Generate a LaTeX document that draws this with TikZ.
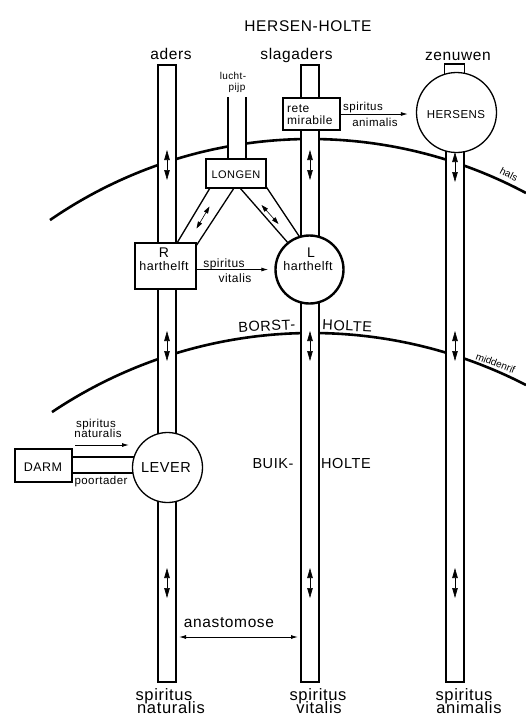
\documentclass[tikz,border=0pt]{standalone}
\usepackage{fontspec}
\setmainfont{Liberation Sans}[LetterSpace=4]
\usetikzlibrary{arrows.meta}
\tikzset{
  tube/.style={draw, line width=1.3pt, fill=white},
  box/.style={draw, line width=1.6pt, fill=white, inner sep=0pt},
  organ/.style={draw, circle, line width=1.3pt, fill=white, inner sep=0pt},
  cavity/.style={line width=2.6pt},
  flow/.style={-{Latex[length=7pt,width=4pt]}, line width=0.9pt},
  bidir/.style={{Triangle[length=10pt,width=5.5pt]}-{Triangle[length=10pt,width=5.5pt]}, line width=0.6pt},
  smallbidir/.style={{Triangle[length=7pt,width=4.5pt]}-{Triangle[length=7pt,width=4.5pt]}, line width=0.6pt},
  lbl/.style={font=\fontsize{#1}{#1}\selectfont, inner sep=0pt, anchor=base},
}
\newcommand\tubearrow[2]{\draw[bidir] (#1,#2-15) -- (#1,#2+15);}
\begin{document}
\begin{tikzpicture}[x=1pt,y=-1pt]
\useasboundingbox (0,0) rectangle (526,716);
\fill[white] (0,0) rectangle (526,716);

% body cavity boundaries
\draw[cavity, domain=50:526, samples=90, smooth, variable=\x]
  plot (\x, {597.2 - 458.2*sqrt(1-((\x-310.2)/458.2)^2)});
\draw[cavity, domain=52:526, samples=90, smooth, variable=\x]
  plot (\x, {799.7 - 466.7*sqrt(1-((\x-311.9)/466.7)^2)});

% vessels
\draw[tube] (158,65) rectangle (176,682);
\draw[tube] (301,65) rectangle (319,682);
\draw[tube] (446,110) rectangle (464,682);
\draw[line width=1.3pt, fill=white] (444.5,64) rectangle (464.5,80);

% trachea
\fill[white] (228,97) rectangle (246,170);
\draw[line width=1.3pt] (228,97) -- (228,170) (246,97) -- (246,170);

% bronchi
\fill[white] (211.8,185) -- (236,185) -- (193.4,250) -- (172.8,250) -- cycle;
\draw[line width=1.3pt] (211.8,185) -- (172.8,250) (236,185) -- (193.4,250);
\fill[white] (237.4,185) -- (265,185) -- (306,246.5) -- (296,252) -- cycle;
\draw[line width=1.3pt] (237.4,185) -- (296,252) (265,185) -- (306,246.5);

% portal vein
\fill[white] (72,457) rectangle (142,473);
\draw[line width=1.3pt] (72,457) -- (142,457) (72,473) -- (142,473);

% organs
\node[box, minimum width=61pt, minimum height=46pt] (rh) at (165.5,266) {};
\node[box, minimum width=57pt, minimum height=32pt] (rete) at (311.5,114) {};
\node[box, minimum width=60pt, minimum height=29pt] (longen) at (236,173.5) {};
\node[box, minimum width=57pt, minimum height=33pt] (darm) at (43.5,465.5) {};
\node[organ, minimum size=68pt, line width=2.4pt] (lh) at (309.5,269.5) {};
\node[organ, minimum size=70pt] (lever) at (167.5,467.5) {};
\node[organ, minimum size=80pt] (hersens) at (456.5,112.5) {};

% arrows inside vessels
\tubearrow{167}{165}
\tubearrow{167}{346}
\tubearrow{167}{583}
\tubearrow{310}{165}
\tubearrow{310}{346}
\tubearrow{310}{583}
\tubearrow{455}{167}
\tubearrow{455}{346}
\tubearrow{455}{583}
\draw[smallbidir] (209.5,206.5) -- (196.5,228.5);
\draw[smallbidir] (261.5,205) -- (278.5,224);

% flows
\draw[flow, shorten >=6pt] (rh.east |- lh.center) -- (lh.west);
\draw[flow, shorten >=8pt] (rete.east) -- (hersens.west |- rete.east);
\coordinate (sn1) at (75,445);
\coordinate (sn2) at (129,445);
\draw[flow] (sn1) -- (sn2);
\coordinate (an1) at (179,637);
\coordinate (an2) at (298,637);
\draw[{Latex[length=7pt,width=4pt]}-{Latex[length=7pt,width=4pt]}, line width=0.9pt] (an1) -- (an2);

% texts
\node[lbl=15.5] (t0) at (308,31) {HERSEN-HOLTE};
\node[lbl=15.5] (t1) at (171,59) {aders};
\node[lbl=15.5] (t2) at (296.5,59) {slagaders};
\node[lbl=15.5] (t3) at (458,60) {zenuwen};
\node[lbl=10] (t4) at (233,79) {lucht-};
\node[lbl=10] (t5) at (237,90) {pijp};
\node[lbl=12, anchor=base west] (t6) at (287,112) {rete};
\node[lbl=12, anchor=base west] (t7) at (287,124) {mirabile};
\node[lbl=11.5, anchor=base west] (t8) at (343,110) {spiritus};
\node[lbl=11.5] (t9) at (375,126) {animalis};
\node[lbl=11.5] (t10) at (456,118) {HERSENS};
\node[lbl=11] (t11) at (236,178) {LONGEN};
\node[lbl=14] (t12) at (164,257) {R};
\node[lbl=12.5] (t13) at (164,270) {harthelft};
\node[lbl=14] (t14) at (311,257) {L};
\node[lbl=12.5] (t15) at (308,270) {harthelft};
\node[lbl=12] (t16) at (224,267) {spiritus};
\node[lbl=12] (t17) at (235,282) {vitalis};
\node[lbl=14.5, rotate=3] (t18) at (267,331) {BORST-};
\node[lbl=14.5, rotate=-3] (t19) at (347,331) {HOLTE};
\node[lbl=14.5] (t20) at (273,468) {BUIK-};
\node[lbl=14.5] (t21) at (346,468) {HOLTE};
\node[lbl=11.5] (t22) at (96,427) {spiritus};
\node[lbl=11.5] (t23) at (98,437) {naturalis};
\node[lbl=11.5] (t24) at (101,484) {poortader};
\node[lbl=12.5] (t25) at (43,471) {DARM};
\node[lbl=14.5] (t26) at (166,472) {LEVER};
\node[lbl=15.5] (t27) at (229,627) {anastomose};
\node[lbl=16.5] (t28) at (164,700) {spiritus};
\node[lbl=16.5] (t29) at (171,713) {naturalis};
\node[lbl=16.5] (t30) at (318,700) {spiritus};
\node[lbl=16.5] (t31) at (319,713) {vitalis};
\node[lbl=16.5] (t32) at (464,700) {spiritus};
\node[lbl=16.5] (t33) at (469,713) {animalis};
\node[lbl=10, rotate=-27, anchor=base west] (t34) at (499,173) {\addfontfeature{LetterSpace=0}hals};
\node[lbl=10, rotate=-21, anchor=base west] (t35) at (475,359) {\addfontfeature{LetterSpace=0}middenrif};
\end{tikzpicture}
\end{document}
